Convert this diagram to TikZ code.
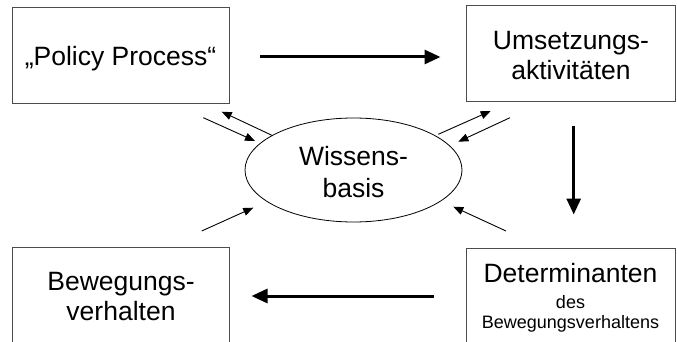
\documentclass[tikz,border=0pt]{standalone}
\usepackage{fontspec}
\setmainfont{Liberation Sans}
\usetikzlibrary{arrows.meta,shapes.geometric}
\begin{document}
\begin{tikzpicture}[x=1pt,y=-1pt,
  box/.style={draw=black!70, line width=0.9pt, minimum width=217pt, minimum height=96pt, inner sep=0pt},
  big/.style={font=\fontsize{26.5}{30}\selectfont, align=center},
  txt/.style={inner sep=0pt},
  bigarrow/.style={line width=3pt, -{Triangle[length=16pt,width=14pt]}},
  thinarrow/.style={line width=0.9pt, -{Triangle[length=10pt,width=8pt]}}]
\useasboundingbox (0,0) rectangle (677,342);
\clip (0,0) rectangle (677,342);
% boxes
\node[box] (pp) at (120.5,55) {};
\node[big, txt] (ppt) at (120.5,59) {„Policy Process“};
\node[box, minimum width=209pt] (ua) at (570.5,53) {};
\node[big, txt] (uat) at (571,56) {Umsetzungs-\\aktivitäten};
\node[box] (bv) at (120.5,295) {};
\node[big, txt] (bvt) at (121,297) {Bewegungs-\\verhalten};
\node[box, minimum width=209pt] (dt) at (570.5,296) {};
\node[txt, align=center, font=\fontsize{18}{20}\selectfont] (dtt) at (570.5,298)
  {{\fontsize{26.5}{30}\selectfont Determinanten}\\[6pt]des\\Bewegungsverhaltens};
% ellipse
\node[draw, line width=0.8pt, ellipse, minimum width=217pt, minimum height=104pt, inner sep=0pt] (wb) at (353.5,170) {};
\node[big, txt] (wbt) at (353.5,172) {Wissens-\\[2pt]basis};
% thick arrows
\coordinate (a1s) at (260,57);
\coordinate (a1e) at (440.5,57);
\coordinate (a2s) at (573.7,126.5);
\coordinate (a2e) at (573.7,214.5);
\coordinate (a3s) at (433.7,296);
\coordinate (a3e) at (251.5,296);
\draw[bigarrow] (a1s) -- (a1e);
\draw[bigarrow] (a2s) -- (a2e);
\draw[bigarrow] (a3s) -- (a3e);
% thin arrows
\coordinate (t1s) at (272.7,135.7); \coordinate (t1e) at (221.7,111.7);
\coordinate (t2s) at (203.3,117.7); \coordinate (t2e) at (255,141);
\coordinate (t3s) at (438.3,134.3); \coordinate (t3e) at (490.7,111);
\coordinate (t4s) at (510,117.7);   \coordinate (t4e) at (458.3,141.7);
\coordinate (t5s) at (201.7,231);   \coordinate (t5e) at (253.3,207.7);
\coordinate (t6s) at (506,231);     \coordinate (t6e) at (453.3,206.7);
\draw[thinarrow] (t1s) -- (t1e);
\draw[thinarrow] (t2s) -- (t2e);
\draw[thinarrow] (t3s) -- (t3e);
\draw[thinarrow] (t4s) -- (t4e);
\draw[thinarrow] (t5s) -- (t5e);
\draw[thinarrow] (t6s) -- (t6e);
\end{tikzpicture}
\end{document}
